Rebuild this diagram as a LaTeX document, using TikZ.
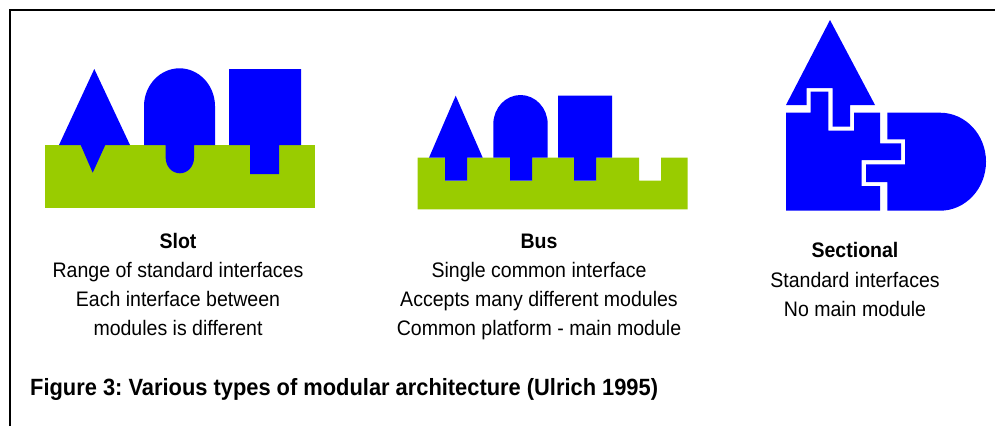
\documentclass[tikz,border=0pt]{standalone}
\usepackage{fontspec}
\setmainfont{Liberation Sans}[FakeStretch=0.93]
\usepackage{tikz}
\frenchspacing
\definecolor{modblue}{HTML}{0000FF}
\definecolor{basegreen}{HTML}{99CC00}
\tikzset{
  module/.style={fill=modblue},
  platform/.style={fill=basegreen},
  headtext/.style={font=\bfseries\fontsize{21}{29}\selectfont, anchor=base, inner sep=0pt},
  bodytext/.style={font=\fontsize{21}{29}\selectfont, anchor=base, inner sep=0pt},
}
\begin{document}
\begin{tikzpicture}[x=1pt, y=-1pt]
\useasboundingbox (0,0) rectangle (995,426);
\draw[line width=2pt] (10,426) -- (10,10) -- (995,10);
% slot
\fill[platform] (45,145) rectangle (315,207.7);
\fill[module] (59,145) -- (94.3,69) -- (130,145) -- (105.3,145) -- (92.7,172.7) -- (80.7,145) -- cycle;
\fill[module] (144,145) -- (144,106.3) arc[start angle=180, end angle=360, x radius=35.5, y radius=38]
  -- (215,145) -- (194,145) -- (194,158) arc[start angle=0, end angle=180, x radius=14.15, y radius=15.3]
  -- (165.7,145) -- cycle;
\fill[module] (229,69) -- (301,69) -- (301,145) -- (279,145) -- (279,174) -- (250,174) -- (250,145) -- (229,145) -- cycle;
% bus
\fill[platform] (417.7,209.3) -- (417.7,157.7)
  foreach \nx in {445,510,574,639} { -- (\nx,157.7) -- (\nx,180.7) -- ({\nx+22},180.7) -- ({\nx+22},157.7) }
  -- (687.7,157.7) -- (687.7,209.3) -- cycle;
\fill[module] (429,157.7) -- (455.7,95.7) -- (482.7,157.7) -- (467,157.7) -- (467,180.7) -- (445,180.7) -- (445,157.7) -- cycle;
\fill[module] (493.3,157.7) -- (493.3,124.2) arc[start angle=180, end angle=360, x radius=27.2, y radius=29.2]
  -- (547.7,157.7) -- (532,157.7) -- (532,180.7) -- (510,180.7) -- (510,157.7) -- cycle;
\fill[module] (558,95.7) -- (612,95.7) -- (612,157.7) -- (596,157.7) -- (596,180.7) -- (574,180.7) -- (574,157.7) -- (558,157.7) -- cycle;
% sectional
\fill[module] (786,105) -- (830,20) -- (875,105) -- (850,105) -- (850,126.7) -- (832.7,126.7)
  -- (832.7,88) -- (806.7,88) -- (806.7,105) -- cycle;
\fill[module] (786,112.7) -- (810.7,112.7) -- (810.7,91.7) -- (828.3,91.7) -- (828.3,130.7) -- (854,130.7)
  -- (854,112.7) -- (880,112.7) -- (880,143.3) -- (901,143.3) -- (901,160) -- (861.7,160) -- (861.7,186)
  -- (880,186) -- (880,210.7) -- (786,210.7) -- cycle;
\fill[module] (887.3,112.7) -- (940,112.7) arc[start angle=270, end angle=450, x radius=46, y radius=49]
  -- (887.3,210.7) -- (887.3,182) -- (866,182) -- (866,164.3) -- (905,164.3) -- (905,139.3)
  -- (887.3,139.3) -- cycle;
% labels
\node[headtext] (slot) at (178,248) {Slot};
\foreach \txt [count=\i] in {Range of standard interfaces, Each interface between, modules is different}
  \node[bodytext] (slot-\i) at (178,{248+29.3*\i}) {\txt};
\node[headtext] (bus) at (539,248) {Bus};
\foreach \txt [count=\i] in {Single common interface, Accepts many different modules, Common platform - main module}
  \node[bodytext] (bus-\i) at (539,{248+29.3*\i}) {\txt};
\node[headtext] (sectional) at (855,257.7) {Sectional};
\foreach \txt [count=\i] in {Standard interfaces, No main module}
  \node[bodytext] (sectional-\i) at (855,{257.7+29.3*\i}) {\txt};
\node[font=\bfseries\fontsize{23.5}{28}\selectfont, anchor=base west, inner sep=0pt] (caption) at (30,395)
  {Figure 3: Various types of modular architecture (Ulrich 1995)};
\end{tikzpicture}
\end{document}
